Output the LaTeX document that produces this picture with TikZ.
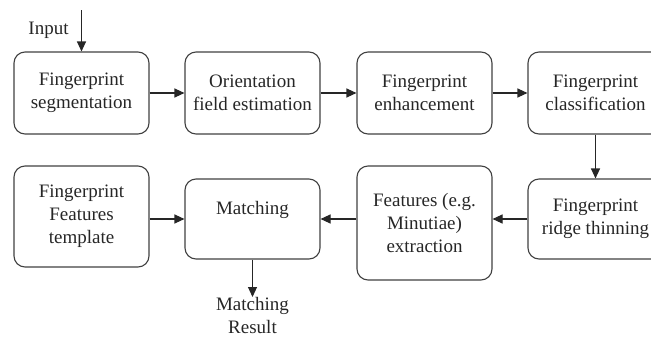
\documentclass[tikz,border=0pt]{standalone}
\usepackage{fontspec}
\setmainfont{Liberation Serif}
\usetikzlibrary{arrows.meta}
\begin{document}
\begin{tikzpicture}[x=1pt,y=-1pt,
  box/.style={draw=black!75,line width=1.1pt,rounded corners=11pt,minimum width=135pt,align=center,inner sep=0pt,
    font=\fontsize{19}{23}\selectfont,text=black!85},
  lbl/.style={align=center,inner sep=0pt,font=\fontsize{19}{23}\selectfont,text=black!85},
  arr/.style={draw=black!85,line width=1.1pt,-{Triangle[length=10pt,width=9pt]}}]
\useasboundingbox (0,0) rectangle (651,338);
\node[box,minimum height=82pt] (b1) at (81.5,93) {Fingerprint\\segmentation};
\node[box,minimum height=82pt] (b2) at (252.5,93) {Orientation\\field estimation};
\node[box,minimum height=82pt] (b3) at (424.5,93) {Fingerprint\\enhancement};
\node[box,minimum height=82pt] (b4) at (595.5,93) {Fingerprint\\classification};
\node[box,minimum height=101pt] (t) at (81.5,216.5) {Fingerprint\\Features\\template};
\node[box,minimum height=80pt] (m) at (252.5,219) {Matching\\\mbox{}};
\node[box,minimum height=114pt] (f) at (424.5,223) {Features (e.g.\\Minutiae)\\extraction};
\node[box,minimum height=80pt] (r) at (595.5,219) {Fingerprint\\ridge thinning};
\node[lbl] (inp) at (48.5,30) {Input};
\coordinate (inc) at (81.5,10);
\node[lbl,anchor=north] (res) at (252.5,297) {Matching\\Result};
\draw[arr] (inc) -- (b1.north);
\draw[arr] (b1) -- (b2);
\draw[arr] (b2) -- (b3);
\draw[arr] (b3) -- (b4);
\draw[arr] (b4) -- (r);
\draw[arr] (r.west) -- (f.east|-r.west);
\draw[arr] (f.west|-m.east) -- (m.east);
\draw[arr] (t.east|-m.west) -- (m.west);
\draw[arr] (m.south) -- (res.north);
\end{tikzpicture}
\end{document}
